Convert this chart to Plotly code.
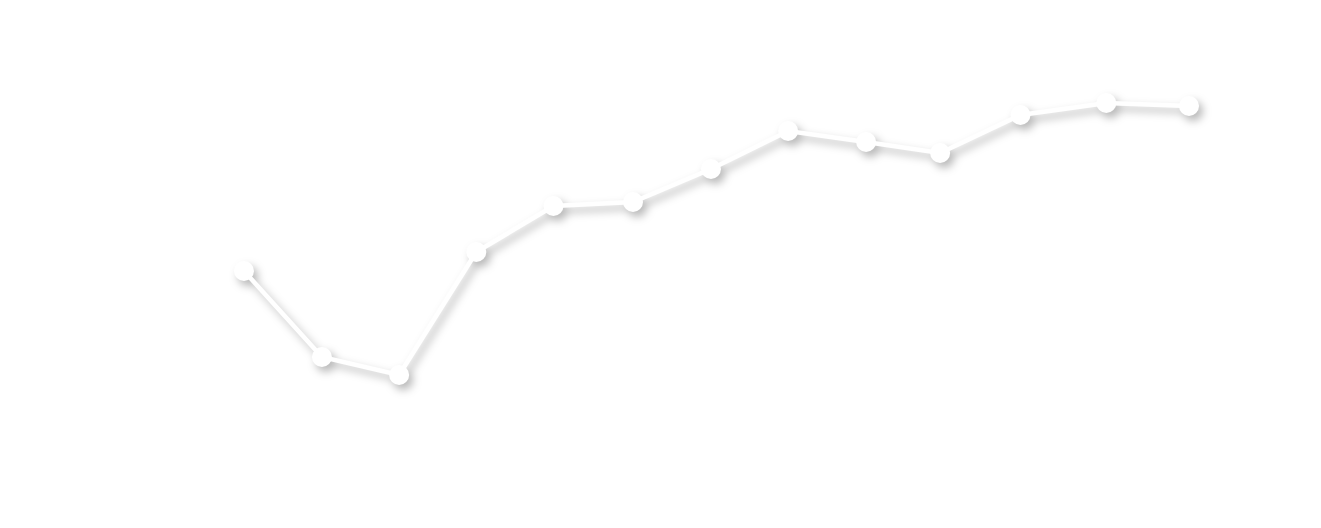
"""
White-on-white line chart with a soft drop shadow
"""

import plotly.graph_objects as go

# Data
x_values = [0.0, 0.99, 1.97, 2.95, 3.93, 4.94, 5.93, 6.91, 7.9, 8.84, 9.86, 10.95, 12.0]
y_values = [25.7, 17.1, 15.3, 27.6, 32.2, 32.6, 35.9, 39.7, 38.6, 37.5, 41.3, 42.5, 42.2]

fig = go.Figure(go.Scatter(
    x=x_values,
    y=y_values,
    mode="lines+markers",
    line=dict(color="white", width=4.5),
    marker=dict(color="white", size=20, line=dict(width=0)),
    hoverinfo="skip",
))

fig.update_layout(
    width=1321,
    height=528,
    margin=dict(l=0, r=0, t=0, b=0),
    paper_bgcolor="rgba(0,0,0,0)",
    plot_bgcolor="rgba(0,0,0,0)",
    showlegend=False,
    xaxis=dict(range=[-3.098, 13.676], visible=False, showgrid=False, zeroline=False),
    yaxis=dict(range=[0, 52.8], visible=False, showgrid=False, zeroline=False),
)

# soft shadow under the white marks (the page itself stays white)
shadow_js = """
var gd = document.getElementById('{plot_id}');
gd.style.filter = 'drop-shadow(4px 5px 4px rgba(0,0,0,0.28))';
document.body.style.margin = '0';
document.body.style.background = 'white';
"""

fig.write_html("out.html", config={"displayModeBar": False}, post_script=shadow_js)
